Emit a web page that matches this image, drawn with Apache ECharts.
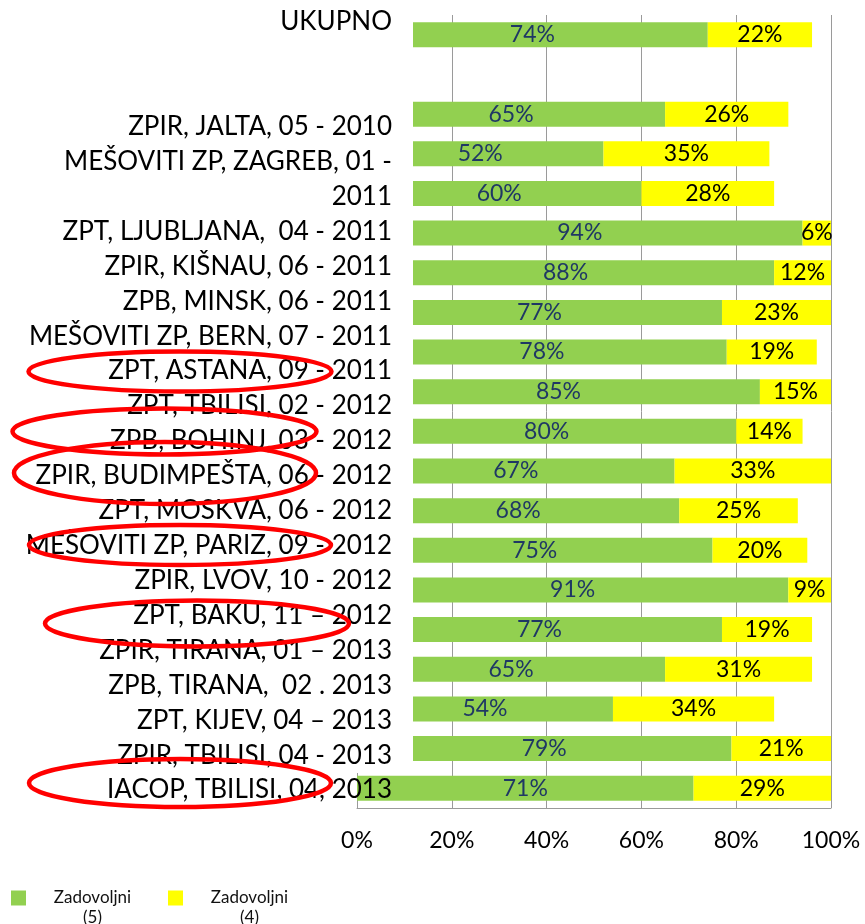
<!DOCTYPE html>
<html>
<head>
<meta charset="utf-8">
<script src="https://cdn.jsdelivr.net/npm/echarts@6/dist/echarts.min.js"></script>
<style>
    html, body { margin: 0; padding: 0; background: #fff; }
    #main { width: 865px; height: 924px; }
</style>
</head>
<body>
<div id="main"></div>
<script>
// lines of the label text box on the left (blank lines included)
const labelLines = [
    'UKUPNO', '', '',
    'ZPIR, JALTA, 05 - 2010',
    'MEŠOVITI ZP, ZAGREB, 01 -',
    '2011',
    'ZPT, LJUBLJANA,  04 - 2011',
    'ZPIR, KIŠNAU, 06 - 2011',
    'ZPB, MINSK, 06 - 2011',
    'MEŠOVITI ZP, BERN, 07 - 2011',
    'ZPT, ASTANA, 09 - 2011',
    'ZPT, TBILISI, 02 - 2012',
    'ZPB, BOHINJ, 03 - 2012',
    'ZPIR, BUDIMPEŠTA, 06 - 2012',
    'ZPT, MOSKVA, 06 - 2012',
    'MEŠOVITI ZP, PARIZ, 09 - 2012',
    'ZPIR, LVOV, 10 - 2012',
    'ZPT, BAKU, 11 – 2012',
    'ZPIR, TIRANA, 01 – 2013',
    'ZPB, TIRANA,  02 . 2013',
    'ZPT, KIJEV, 04 – 2013',
    'ZPIR, TBILISI, 04 - 2013',
    'IACOP, TBILISI, 04, 2013'
]

// bar rows (second row is the empty gap)
const barRows = ['UKUPNO', '', 'r1', 'r2', 'r3', 'r4', 'r5', 'r6', 'r7', 'r8', 'r9',
    'r10', 'r11', 'r12', 'r13', 'r14', 'r15', 'r16', 'r17', 'r18']
const zad5 = [74, '-', 65, 52, 60, 94, 88, 77, 78, 85, 80, 67, 68, 75, 91, 77, 65, 54, 79, 71]
const zad4 = [22, '-', 26, 35, 28, 6, 12, 23, 19, 15, 14, 33, 25, 20, 9, 19, 31, 34, 21, 29]

const xTicks = [0, 20, 40, 60, 80, 100]

const FONT = 'Lato'
const GRID_COLOR = '#9a9a9a'

const myChart = echarts.init(document.getElementById('main'), null, { renderer: 'canvas' })

// red hand drawn marks round some labels
const rings = [
    [180, 371.5, 151.5, 20],
    [164.5, 431.5, 152, 23],
    [165, 473, 151, 31],
    [180, 545, 151, 20],
    [197, 623.5, 152, 23],
    [180, 783, 151, 24]
]

var option = {
    animation: false,
    backgroundColor: '#fff',
    grid: [
        { left: 357, right: 34, top: 15, bottom: 116 },
        { left: 400, width: 13, top: 4.5, height: 803 }
    ],
    xAxis: [
        {
            type: 'value', gridIndex: 0,
            min: xTicks[0], max: xTicks[xTicks.length - 1], interval: 20,
            axisLine: { show: true, lineStyle: { color: GRID_COLOR, width: 1 } },
            axisTick: { show: false },
            splitLine: { show: true, lineStyle: { color: GRID_COLOR, width: 1 } },
            axisLabel: { formatter: '{value}%', fontFamily: FONT, fontSize: 23, color: '#000', margin: 21 }
        },
        { type: 'value', gridIndex: 1, show: false, min: 0, max: 1 }
    ],
    yAxis: [
        {
            type: 'category', gridIndex: 0, inverse: true, data: barRows,
            axisLine: { show: true, lineStyle: { color: GRID_COLOR, width: 1 } },
            axisTick: { show: false },
            axisLabel: { show: false }
        },
        {
            type: 'category', gridIndex: 1, inverse: true, data: labelLines, z: 10,
            axisLine: { show: false },
            axisTick: { show: false },
            axisLabel: { interval: 0, fontFamily: FONT, fontSize: 26, color: '#000', margin: 8 }
        }
    ],
    legend: {
        left: 11, top: 868, padding: 0,
        itemWidth: 15, itemHeight: 15, itemGap: 14,
        icon: 'rect',
        formatter: function (name) {
            const p = name.split(' ')
            // empty first line so the icon sits level with the first word
            return '{a| }\n{a|' + p[0] + '}\n{a|' + p[1] + '}'
        },
        textStyle: {
            lineHeight: 20,
            rich: { a: { width: 123, align: 'center', fontFamily: FONT, fontSize: 17, lineHeight: 20, color: '#111' } }
        }
    },
    graphic: [
        { type: 'rect', shape: { x: 0, y: 0, width: 413, height: 773 }, style: { fill: '#fff' }, z: 5, silent: true }
    ].concat(rings.map(function (r) {
        return {
            type: 'ellipse', z: 20, silent: true,
            shape: { cx: r[0], cy: r[1], rx: r[2], ry: r[3] },
            style: { fill: 'none', stroke: '#ff0000', lineWidth: 4.5 }
        }
    })),
    series: [
        {
            name: 'Zadovoljni (5)', type: 'bar', stack: 'a', barWidth: 25,
            itemStyle: { color: '#92D050' },
            label: { show: true, position: 'inside', formatter: '{c}%', fontFamily: FONT, fontSize: 23, color: '#1F3864' },
            data: zad5
        },
        {
            name: 'Zadovoljni (4)', type: 'bar', stack: 'a', barWidth: 25,
            itemStyle: { color: '#FFFF00' },
            label: { show: true, position: 'inside', formatter: '{c}%', fontFamily: FONT, fontSize: 23, color: '#000' },
            data: zad4
        }
    ]
}

if (option && typeof option === 'object') {
    myChart.setOption(option)
}
</script>
</body>
</html>
